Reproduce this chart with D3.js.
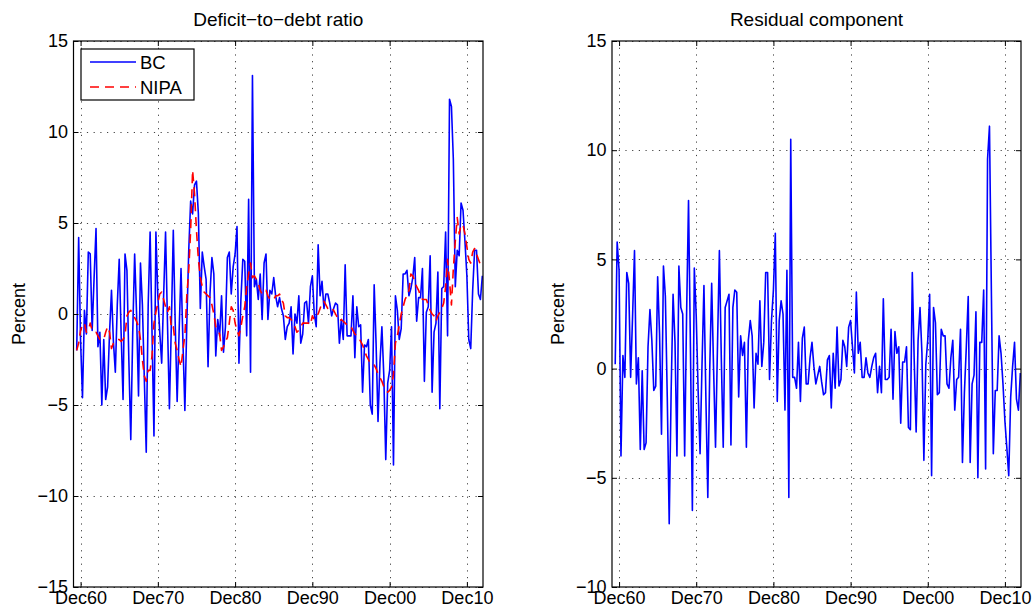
<!DOCTYPE html>
<html>
<head>
<meta charset="utf-8">
<title>Deficit-to-debt ratio / Residual component</title>
<script src="https://d3js.org/d3.v7.min.js"></script>
<style>
    body { margin: 0; background: #fff; }
    svg { display: block; font-family: "Liberation Sans", Arial, Helvetica, sans-serif; }
    .tick text { font-size: 18px; fill: #000; }
    .grid line { stroke: #444; stroke-width: 1; stroke-dasharray: 1.2, 5.5; }
    .title { font-size: 19px; }
    .ylab { font-size: 18px; }
</style>
</head>
<body>
<svg id="chart"></svg>
<script>
// quarterly observations, first one is Jun 1960, last one Dec 2012
var firstYear = 1960, firstMonth = 5;

var bc = [
    -2.0, 4.2, -1.5, -4.6, 0.2, -1.1, 3.4, 3.3, -0.9, 2.0,
    4.7, -1.8, -1.0, -5.0, -1.4, -4.7, -4.0, -1.0, 1.3, -1.5,
    -3.2, 0.5, 3.0, -1.0, -4.7, 3.3, 2.4, -2.5, -6.9, -1.0,
    3.3, 0.0, -4.5, 2.8, 0.5, -3.5, -7.6, 0.5, 4.5, -1.0,
    -6.7, 4.5, 1.0, -1.0, -2.7, 1.0, 4.5, -0.5, -5.2, -0.5,
    4.6, -0.5, -4.8, -1.0, 2.5, -1.5, -5.3, -0.5, 3.5, 6.2,
    5.5, 7.1, 7.3, 5.5, 0.3, 3.4, 2.6, 1.9, -2.9, 1.1,
    3.1, 2.2, -2.3, -0.3, -1.2, 1.0, -2.1, -0.7, 3.1, 3.4,
    1.1, 2.6, 3.3, 4.8, -2.7, 0.8, 3.0, 2.9, -1.2, 6.3,
    -3.2, 13.1, 1.5, 1.9, 0.8, 2.2, -0.3, 2.8, 3.3, -0.3,
    1.3, 1.1, 2.0, 1.0, 0.4, 0.9, 0.3, -0.1, -1.4, -0.7,
    -0.5, 0.4, -2.2, 0.0, -0.5, 1.0, -1.6, -1.1, 0.6, 0.7,
    -0.5, 1.5, 2.1, 0.0, -0.7, 3.8, 1.0, 1.8, 0.3, 1.1,
    1.1, 0.6, -0.1, 0.3, 0.6, 0.5, -1.6, -0.3, -1.4, 2.7,
    -1.2, -1.2, -1.2, 1.0, -2.4, 0.4, -0.7, -0.6, -4.3, -1.7,
    -1.8, -1.4, -5.0, -5.5, 1.6, -1.6, -5.9, -2.7, -0.7, -3.4,
    -8.0, -3.8, -3.1, -0.7, -8.3, 1.0, 0.2, -1.4, -0.8, 2.2,
    2.2, 2.4, 1.0, 1.4, 2.0, 3.1, -0.4, 0.9, 0.9, 2.5,
    -3.7, 0.1, 0.4, 3.2, -4.3, -1.0, -0.5, 2.3, -5.2, 1.4,
    1.5, 4.5, -1.2, 11.8, 11.4, 8.5, 1.5, 3.5, 3.2, 6.1,
    5.7, 4.0, 2.1, -1.4, -1.9, 1.3, 3.5, 3.5, 1.1, 0.8,
    2.1
];

var nipa = [
    -2.0, -1.6, -0.9, -0.6, -0.5, -1.0, -0.9, -0.5, -0.9, -1.0,
    -1.0, -1.2, -1.4, -1.4, -1.4, -1.0, -0.7, -1.0, -1.9, -1.6,
    -1.5, -1.4, -1.4, -1.5, -1.4, -1.2, -0.1, 0.1, 0.2, 0.0,
    -0.2, -0.4, -0.7, -1.4, -2.5, -3.4, -3.7, -3.1, -3.1, -2.3,
    -0.5, 0.1, 0.6, 1.1, 1.2, 0.8, 0.4, 0.1, 0.4, -0.8,
    -0.7, -1.6, -2.0, -2.5, -2.9, -2.0, -1.2, 1.0, 2.4, 4.6,
    7.9, 6.6, 4.6, 3.0, 2.0, 1.5, 1.2, 1.1, 1.0, 0.9,
    0.5, 0.0, -0.7, -0.9, -1.1, -2.0, -1.8, -1.5, -1.3, -0.5,
    0.4, 0.2, -0.5, -0.9, -1.2, -0.7, -0.1, 0.4, 1.5, 2.2,
    2.8, 2.0, 2.1, 1.9, 1.7, 1.3, 1.1, 1.2, 1.3, 1.0,
    0.8, 0.8, 0.8, 1.0, 1.0, 1.1, 0.8, 0.6, -0.1, -0.2,
    -0.2, -0.3, -0.5, -0.7, -1.0, -0.9, -0.7, -0.5, -0.5, -0.5,
    -0.5, -0.6, -0.1, -0.3, -0.1, 0.0, 0.3, 0.6, 0.7, 0.5,
    0.3, 0.2, 0.3, 0.2, 0.0, -0.2, -0.4, -0.3, -0.4, -0.5,
    -0.6, -0.6, -0.7, -0.9, -1.1, -1.2, -1.3, -1.5, -1.7, -2.0,
    -2.3, -2.5, -2.7, -2.8, -2.8, -3.0, -3.3, -3.5, -3.7, -4.0,
    -4.2, -4.3, -4.2, -4.0, -3.3, -1.6, -1.2, -0.6, 0.0, 0.4,
    0.8, 1.0, 1.3, 2.2, 2.1, 1.8, 1.5, 1.3, 1.0, 0.8,
    0.8, 0.8, 0.5, 0.2, 0.0, -0.1, -0.4, -0.1, 0.1, 0.3,
    0.6, 1.5, 3.0, 1.8, 0.5, 2.5, 4.0, 5.3, 4.4, 4.9,
    4.9, 4.4, 3.7, 3.0, 2.8, 3.4, 3.6, 3.3, 3.0, 2.7,
    2.5
];

var residual = [
    0.2, 5.8, 4.5, -4.0, 0.6, -0.4, 4.4, 3.9, -0.4, 2.4,
    5.4, -0.7, 0.5, -3.7, -0.1, -3.7, -3.4, 1.0, 2.7, 1.3,
    -1.0, -0.8, 4.2, 1.6, -3.0, 4.7, 3.3, -1.3, -7.1, -1.0,
    3.4, 1.2, -4.0, 4.7, 2.8, 2.5, -4.0, 2.5, 7.7, 1.0,
    -6.5, 4.6, 2.4, -1.0, -3.9, 0.2, 3.8, -1.3, -5.9, 0.0,
    3.9, 0.0, -3.6, 1.0, 5.4, 0.5, -3.6, 2.8, 3.1, 3.4,
    -3.5, 2.8, 3.6, 3.5, -1.3, 1.5, 0.6, 1.2, -3.6, 1.3,
    2.2, 1.5, -1.8, 0.7, 0.2, 3.1, 0.1, 1.2, 4.4, 4.4,
    -0.5, 2.2, 3.6, 6.2, -1.5, 2.2, 3.1, 2.5, -1.9, 4.5,
    -5.9, 10.5, -0.4, -0.4, -0.9, 1.2, -1.5, 1.4, 1.9, -0.7,
    -0.7, 0.5, 1.2, 0.1, -0.7, -0.3, 0.1, -0.6, -1.2, -1.1,
    0.4, 0.6, -1.8, 0.7, -0.9, 1.9, -0.8, -0.5, 1.3, 1.0,
    0.1, 1.9, 2.2, 1.0, -0.2, 3.5, 0.7, 1.2, -0.4, -0.4,
    0.5, -0.2, -0.4, 0.1, 0.5, 0.7, -1.1, 0.1, -1.1, 3.2,
    -0.5, -0.5, -0.4, 1.8, -1.4, 1.7, 0.7, 1.0, -2.5, 0.3,
    0.3, 1.0, -2.7, -2.8, 4.4, 0.4, -2.9, 1.3, 2.8, 0.7,
    -4.2, 0.2, 1.3, 3.4, -4.9, 2.8, 2.1, -1.2, -1.1, 1.8,
    1.5, 1.5, -0.7, -0.9, 0.5, 1.3, -1.9, -0.5, -0.4, 1.8,
    -4.3, -1.1, 1.0, 3.3, -4.3, -0.7, -0.3, 2.6, -5.0, 1.2,
    1.2, 3.6, -4.6, 9.6, 11.1, 3.5, -3.9, -1.0, -1.0, 1.5,
    0.7, -0.7, -2.4, -3.6, -4.9, -1.3, 0.1, 1.2, -1.4, -1.9,
    -0.2
];

var xTickYears = [1960, 1970, 1980, 1990, 2000, 2010];
var xTickLabels = ["Dec60", "Dec70", "Dec80", "Dec90", "Dec00", "Dec10"];
var yTicksLeft = [-15, -10, -5, 0, 5, 10, 15];
var yTicksRight = [-10, -5, 0, 5, 10, 15];

var W = 1034, H = 613;
var svg = d3.select("#chart").attr("width", W).attr("height", H);

function quarterDate(i) {
    return new Date(firstYear, firstMonth + 3 * i, 1);
}
var xTickDates = xTickYears.map(function (y) { return new Date(y, 11, 1); });

function drawPanel(opt) {
    var x = d3.scaleTime()
        .domain([new Date(1960, 0, 1), new Date(2013, 0, 1)])
        .range([opt.left, opt.right]);
    var y = d3.scaleLinear()
        .domain([opt.yTicks[0], opt.yTicks[opt.yTicks.length - 1]])
        .range([opt.bottom, opt.top]);

    var g = svg.append("g");

    // grid
    var grid = g.append("g").attr("class", "grid");
    grid.selectAll(".gx").data(xTickDates).enter().append("line")
        .attr("x1", function (d) { return Math.round(x(d)) + 0.5; })
        .attr("x2", function (d) { return Math.round(x(d)) + 0.5; })
        .attr("y1", opt.top).attr("y2", opt.bottom);
    grid.selectAll(".gy").data(opt.yTicks).enter().append("line")
        .attr("y1", function (d) { return Math.round(y(d)) + 0.5; })
        .attr("y2", function (d) { return Math.round(y(d)) + 0.5; })
        .attr("x1", opt.left).attr("x2", opt.right);

    var clipId = "clip" + opt.id;
    svg.append("clipPath").attr("id", clipId).append("rect")
        .attr("x", opt.left).attr("y", opt.top)
        .attr("width", opt.right - opt.left).attr("height", opt.bottom - opt.top);

    var line = d3.line()
        .x(function (d, i) { return x(quarterDate(i)); })
        .y(function (d) { return y(d); });

    opt.series.forEach(function (s) {
        g.append("path")
            .datum(s.values)
            .attr("clip-path", "url(#" + clipId + ")")
            .attr("fill", "none")
            .attr("stroke", s.color)
            .attr("stroke-width", 1.6)
            .attr("stroke-linejoin", "round")
            .attr("stroke-dasharray", s.dash || null)
            .attr("d", line);
    });

    // axes, ticks pointing inwards like matlab
    var fmtX = function (d, i) { return xTickLabels[i]; };
    g.append("g").attr("transform", "translate(0," + opt.bottom + ")")
        .call(d3.axisBottom(x).tickValues(xTickDates).tickFormat(fmtX).tickSize(-5).tickPadding(4));
    g.append("g").attr("transform", "translate(0," + opt.top + ")")
        .call(d3.axisTop(x).tickValues(xTickDates).tickFormat("").tickSize(-5));
    g.append("g").attr("transform", "translate(" + opt.left + ",0)")
        .call(d3.axisLeft(y).tickValues(opt.yTicks).tickSize(-5).tickPadding(5.5));
    g.append("g").attr("transform", "translate(" + opt.right + ",0)")
        .call(d3.axisRight(y).tickValues(opt.yTicks).tickFormat("").tickSize(-5));
    g.selectAll(".domain").remove();
    g.selectAll(".tick text").attr("font-family", null).attr("font-size", null);

    g.append("rect")
        .attr("x", opt.left).attr("y", opt.top)
        .attr("width", opt.right - opt.left).attr("height", opt.bottom - opt.top)
        .attr("fill", "none").attr("stroke", "#000").attr("stroke-width", 1.2);

    g.append("text").attr("class", "title")
        .attr("x", (opt.left + opt.right) / 2).attr("y", 26)
        .attr("text-anchor", "middle").text(opt.title);

    g.append("text").attr("class", "ylab")
        .attr("transform", "translate(" + opt.ylabX + "," + ((opt.top + opt.bottom) / 2) + ") rotate(-90)")
        .attr("text-anchor", "middle").text("Percent");

    return g;
}

var left = drawPanel({
    id: 1, left: 73.5, right: 483, top: 41, bottom: 587,
    yTicks: yTicksLeft, title: "Deficit\u2212to\u2212debt ratio", ylabX: 25,
    series: [
        { values: bc, color: "#0000ff" },
        { values: nipa, color: "#ff0000", dash: "9,6" }
    ]
});

drawPanel({
    id: 2, left: 612, right: 1021, top: 41, bottom: 587,
    yTicks: yTicksRight, title: "Residual component", ylabX: 564,
    series: [
        { values: residual, color: "#0000ff" }
    ]
});

// legend
var legend = left.append("g").attr("transform", "translate(81,49)");
legend.append("rect").attr("width", 113).attr("height", 51)
    .attr("fill", "#fff").attr("stroke", "#000").attr("stroke-width", 1.2);
var items = [
    { name: "BC", color: "#0000ff", dash: null },
    { name: "NIPA", color: "#ff0000", dash: "9,6" }
];
items.forEach(function (d, i) {
    var yy = 13 + i * 25;
    legend.append("line").attr("x1", 9).attr("x2", 55).attr("y1", yy).attr("y2", yy)
        .attr("stroke", d.color).attr("stroke-width", 1.6).attr("stroke-dasharray", d.dash);
    legend.append("text").attr("x", 59).attr("y", yy + 6.5)
        .attr("font-size", "18.5px").text(d.name);
});
</script>
</body>
</html>
